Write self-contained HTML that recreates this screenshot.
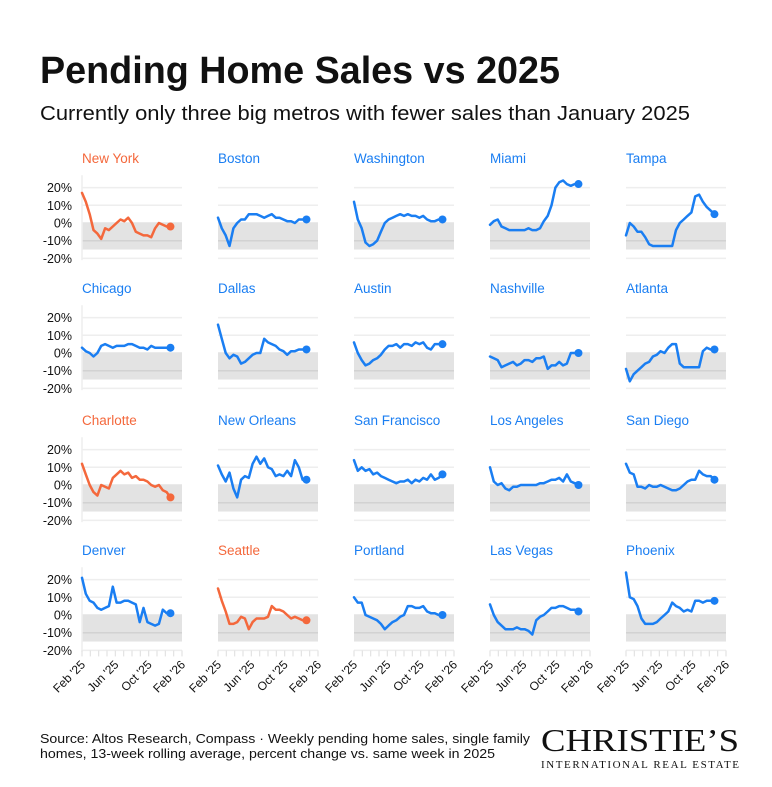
<!DOCTYPE html>
<html><head><meta charset="utf-8">
<style>
body{margin:0;background:#fff;}
svg text{font-family:"Liberation Sans",sans-serif;}
</style></head>
<body>
<svg id="c" width="772" height="782" viewBox="0 0 772 782" xmlns="http://www.w3.org/2000/svg">
<text x="40" y="83" font-size="38" font-weight="bold" fill="#111" textLength="520" lengthAdjust="spacingAndGlyphs">Pending Home Sales vs 2025</text>
<text x="40" y="120" font-size="20" fill="#111" textLength="650" lengthAdjust="spacingAndGlyphs">Currently only three big metros with fewer sales than January 2025</text>
<text x="40" y="743" font-size="13" fill="#111" textLength="490" lengthAdjust="spacingAndGlyphs">Source: Altos Research, Compass · Weekly pending home sales, single family</text>
<text x="40" y="758" font-size="13" fill="#111" textLength="455" lengthAdjust="spacingAndGlyphs">homes, 13-week rolling average, percent change vs. same week in 2025</text>
<text x="640" y="751" font-size="32" text-anchor="middle" fill="#111" textLength="198" lengthAdjust="spacingAndGlyphs" style="font-family:'Liberation Serif',serif">CHRISTIE’S</text>
<text x="640" y="768" font-size="11" text-anchor="middle" fill="#111" textLength="198" lengthAdjust="spacing" style="font-family:'Liberation Serif',serif">INTERNATIONAL REAL ESTATE</text>
<g id="panels"></g>
</svg>
<script>
const cities = ["New York","Boston","Washington","Miami","Tampa","Chicago","Dallas","Austin","Nashville","Atlanta","Charlotte","New Orleans","San Francisco","Los Angeles","San Diego","Denver","Seattle","Portland","Las Vegas","Phoenix"];
const highlighted = ["New York","Charlotte","Seattle"];
const yTicks = [20,10,0,-10,-20];
const yTickLabels = ["20%","10%","0%","-10%","-20%"];
const xTickLabels = ["Feb '25","Jun '25","Oct '25","Feb '26"];
const weeks = [0,2,4,6,8,10,12,14,16,18,20,22,24,26,28,30,32,34,36,38,40,42,44,46];
const sNewYork = [17,12,5,-4,-6,-9,-3,-4,-2,0,2,1,3,0,-5,-6,-7,-7,-8,-3,0,-1,-2,-2];
const sBoston = [3,-3,-7,-13,-3,0,2,2,5,5,5,4,3,4,5,3,3,2,1,1,0,2,2,2];
const sWashington = [12,2,-3,-11,-13,-12,-10,-5,0,2,3,4,5,4,5,4,4,3,4,2,1,1,2,2];
const sMiami = [-1,1,2,-2,-3,-4,-4,-4,-4,-4,-3,-4,-4,-3,1,4,10,20,23,24,22,21,22,22];
const sTampa = [-7,0,-2,-5,-5,-8,-12,-13,-13,-13,-13,-13,-13,-4,0,2,4,6,15,16,12,9,7,5];
const sChicago = [3,1,0,-2,0,4,5,4,3,4,4,4,5,5,4,3,3,2,4,3,3,3,3,3];
const sDallas = [16,8,0,-3,-1,-2,-6,-5,-3,-1,0,0,8,6,5,4,2,1,-1,1,1,2,2,2];
const sAustin = [6,0,-4,-7,-6,-4,-3,-1,2,4,4,5,3,5,5,4,6,5,6,3,2,5,5,5];
const sNashville = [-2,-3,-4,-8,-7,-6,-5,-7,-6,-4,-4,-5,-3,-3,-2,-9,-7,-7,-5,-7,-6,0,0,0];
const sAtlanta = [-9,-16,-12,-10,-8,-6,-5,-2,-1,1,0,3,5,5,-6,-8,-8,-8,-8,-8,1,3,2,2];
const sCharlotte = [12,6,0,-4,-6,0,-1,-2,4,6,8,6,7,4,5,3,3,2,0,-1,0,-3,-4,-7];
const sNewOrleans = [11,6,2,7,-2,-7,3,5,4,12,16,12,15,10,9,5,6,5,8,5,14,10,3,3];
const sSanFrancisco = [14,8,10,8,9,6,7,5,4,3,2,1,2,2,3,1,3,2,4,3,6,3,4,6];
const sLosAngeles = [10,2,0,1,-2,-3,-1,-1,0,0,0,0,0,1,1,2,3,3,4,2,6,2,1,0];
const sSanDiego = [12,7,6,-1,-1,-2,0,-1,-1,0,-1,-2,-3,-3,-2,0,2,3,3,8,6,5,5,3];
const sDenver = [21,12,8,7,4,3,4,5,16,7,7,8,8,7,6,-4,4,-4,-5,-6,-5,3,1,1];
const sSeattle = [15,8,2,-5,-5,-4,-1,-2,-8,-4,-2,-2,-2,-1,5,3,3,2,0,-2,-1,-2,-3,-3];
const sPortland = [10,7,7,0,-1,-2,-3,-5,-8,-6,-4,-3,-1,0,5,5,4,4,5,2,1,1,0,0];
const sLasVegas = [6,0,-4,-6,-8,-8,-8,-7,-8,-8,-9,-11,-3,-1,0,2,4,4,5,5,4,3,3,2];
const sPhoenix = [24,10,9,5,-2,-5,-5,-5,-4,-2,0,2,7,5,4,2,3,2,8,8,7,8,8,8];
const series = [sNewYork,sBoston,sWashington,sMiami,sTampa,sChicago,sDallas,sAustin,sNashville,sAtlanta,sCharlotte,sNewOrleans,sSanFrancisco,sLosAngeles,sSanDiego,sDenver,sSeattle,sPortland,sLasVegas,sPhoenix];

const NS="http://www.w3.org/2000/svg";
const root=document.getElementById('panels');
const colX=[82,218,354,490,626], rowZero=[223,353,485,615], W=100, PX=1.77;
function mk(tag,attrs,parent){const e=document.createElementNS(NS,tag);for(const k in attrs)e.setAttribute(k,attrs[k]);parent.appendChild(e);return e;}
function slug(s){return s.toLowerCase().replace(/ /g,'-');}
cities.forEach((city,i)=>{
  const r=Math.floor(i/5), c=i%5, x0=colX[c], z=rowZero[r];
  const xs=w=>x0+w/52*W, ys=v=>z-v*PX;
  const g=mk('g',{},root);
  
  
  const hi=highlighted.includes(city), col=hi?'#f4683c':'#1a7ef2';
  const t=mk('text',{x:x0,y:z-60,'font-size':13.5,fill:col},g);t.textContent=city;
  
  
  const band=mk('rect',{x:x0,y:ys(0),width:W,height:15*PX,fill:'#e3e3e3'},g);
  
  
  yTicks.forEach((v,k)=>{
    const gl=mk('line',{x1:x0,x2:x0+W,y1:ys(v),y2:ys(v),stroke:v===-10?'#d2d2d2':(v===0?'#e3e3e3':'#eeeeee'),'stroke-width':1.5},g);
    
    
    if(c===0){
      const l=mk('text',{x:x0-10,y:ys(v)+4.5,'font-size':12.5,'text-anchor':'end',fill:'#111'},g);l.textContent=yTickLabels[k];
      
      
    }
  });
  if(c===0){
    const ax=mk('line',{x1:x0,x2:x0,y1:ys(27),y2:ys(-21),stroke:'#eeeeee','stroke-width':1.5},g);
    
    
  }
  if(r===3){
    for(let m=0;m<=12;m++){
      const tx=x0+m/12*W;
      const tk=mk('line',{x1:tx,x2:tx,y1:ys(-20),y2:ys(-20)+6,stroke:'#e3e3e3','stroke-width':1.2},g);
      
      
    }
    xTickLabels.forEach((lab,k)=>{
      const tx=x0+k/3*W+4, ty=ys(-20)+15;
      const l=mk('text',{x:tx,y:ty,'font-size':12,'text-anchor':'end',fill:'#111',transform:`rotate(-45 ${tx} ${ty})`},g);l.textContent=lab;
      
      
    });
  }
  const d=series[i].map((v,k)=>(k?'L':'M')+xs(weeks[k]).toFixed(1)+' '+ys(v).toFixed(1)).join(' ');
  const p=mk('path',{d:d,fill:'none',stroke:col,'stroke-width':2.5,'stroke-linejoin':'round','stroke-linecap':'round'},g);
  
  
  const n=series[i].length-1;
  const dot=mk('circle',{cx:xs(weeks[n]),cy:ys(series[i][n]),r:4,fill:col},g);
  
  
});
</script>
</body></html>
